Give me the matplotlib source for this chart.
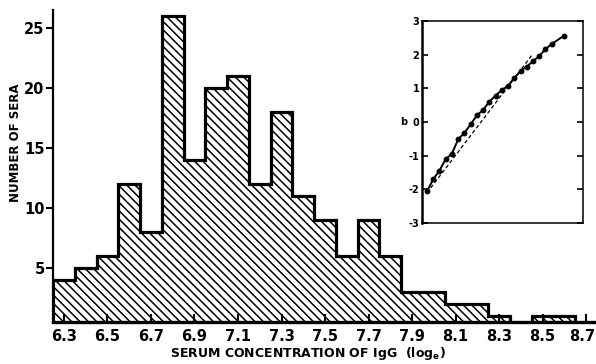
import numpy as np
import matplotlib.pyplot as plt
from matplotlib.transforms import ScaledTranslation

plt.rcParams['font.family'] = ['DejaVu Sans']
plt.rcParams['font.weight'] = 'bold'
plt.rcParams['axes.labelweight'] = 'bold'
plt.rcParams['hatch.linewidth'] = 1.1

# histogram: bin centres (log_e IgG) and number of sera
centres = [6.3, 6.4, 6.5, 6.6, 6.7, 6.8, 6.9, 7.0, 7.1, 7.2, 7.3, 7.4,
           7.5, 7.6, 7.7, 7.8, 7.9, 8.0, 8.1, 8.2, 8.3, 8.4, 8.5, 8.6]
counts = [4, 5, 6, 12, 8, 26, 14, 20, 21, 12, 18, 11,
          9, 6, 9, 6, 3, 3, 2, 2, 1, 0, 1, 1]
xticks = [6.3, 6.5, 6.7, 6.9, 7.1, 7.3, 7.5, 7.7, 7.9, 8.1, 8.3, 8.5, 8.7]
xticklabels = ['6.3', '6.5', '6.7', '6.9', '7.1', '7.3', '7.5', '7.7',
               '7.9', '8.1', '8.3', '8.5', '8.7']
yticks = [5, 10, 15, 20, 25]

# inset: probit of cumulative frequency against upper bin limit
probit_x = [6.35, 6.45, 6.55, 6.65, 6.75, 6.85, 6.95, 7.05, 7.15, 7.25, 7.35,
            7.45, 7.55, 7.65, 7.75, 7.85, 7.95, 8.05, 8.15, 8.25, 8.35, 8.55]
probit_y = [-2.06, -1.70, -1.44, -1.10, -0.94, -0.51, -0.32, -0.07, 0.20, 0.36,
            0.61, 0.79, 0.95, 1.08, 1.31, 1.51, 1.65, 1.81, 1.96, 2.17, 2.32, 2.57]
fit_x = [6.35, 8.03]
fit_y = [-2.10, 1.98]

fig = plt.figure(figsize=(5.96, 3.64), dpi=100)
ax = fig.add_axes([0.089, 0.1154, 0.911, 0.857])

c = np.array(centres)
edges = np.append(c - 0.05, c[-1] + 0.05)
ax.stairs(counts, edges, fill=True, facecolor='white', edgecolor='black',
          hatch='\\\\\\\\', linewidth=0)
ax.stairs(counts, edges, color='black', linewidth=2.3)

ax.set_xlim(6.25, 8.745)
ax.set_ylim(0.5, 26.5)
ax.spines['top'].set_visible(False)
ax.spines['right'].set_visible(False)
ax.spines['left'].set_linewidth(1.6)
ax.spines['bottom'].set_linewidth(2.4)
ax.set_xticks(xticks)
ax.set_xticklabels(xticklabels)
ax.set_yticks(yticks)
ax.tick_params(axis='x', direction='in', length=6, width=1.5, pad=5, labelsize=10.5)
ax.tick_params(axis='y', direction='out', length=5, width=1.5, pad=1, labelsize=10.5)
# nudge the last tick label so it stays inside the picture
last = ax.get_xticklabels()[-1]
last.set_transform(last.get_transform() + ScaledTranslation(-4 / 100, 0, fig.dpi_scale_trans))
ax.set_xlabel('SERUM CONCENTRATION OF IgG  (log$_\\mathregular{e}$)', fontsize=9)
ax.xaxis.set_label_coords(0.47, -0.075)
ax.set_ylabel('NUMBER OF SERA', fontsize=8.5)
ax.yaxis.set_label_coords(-0.058, 0.575)

ins = fig.add_axes([0.708, 0.387, 0.270, 0.555])
ins.plot(fit_x, fit_y, color='black', linestyle=(0, (3, 2)), linewidth=0.9)
ins.plot(probit_x, probit_y, color='black', linewidth=1.4, marker='o',
         markersize=3.2)
ins.set_xlim(6.27, 8.85)
ins.set_ylim(-3, 3)
ins.set_xticks([])
ins.set_yticks([-3, -2, -1, 0, 1, 2, 3])
ins.set_yticklabels(['-3', '-2', '-1', '0', '1', '2', '3'])
ins.tick_params(axis='y', direction='in', length=4, width=1.2, pad=2,
                labelsize=7, left=True, right=True)
for side in ['top', 'right', 'bottom']:
    ins.spines[side].set_linewidth(1.1)
ins.spines['left'].set_linewidth(1.8)
ins.text(-0.115, 0.5, 'b', transform=ins.transAxes, fontsize=7,
         ha='center', va='center')

fig.savefig('out.png', dpi=100)
